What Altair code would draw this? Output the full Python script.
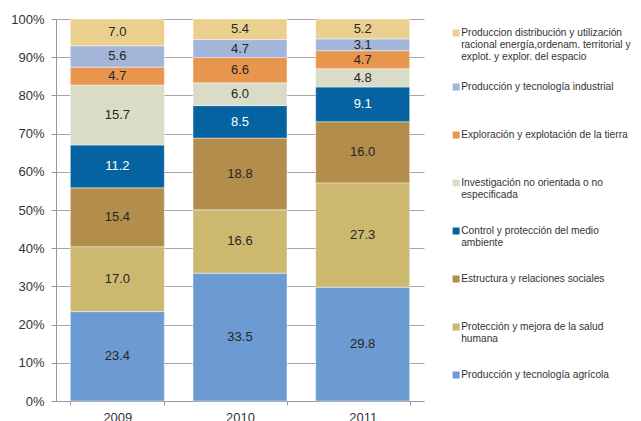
import altair as alt
import pandas as pd

years = ["2009", "2010", "2011"]
# legend labels, bottom-to-top stacking order, "|" marks a line break
legend_labels = [
    "Producción y tecnología agrícola",
    "Protección y mejora de la salud|humana",
    "Estructura y relaciones sociales",
    "Control y protección del medio|ambiente",
    "Investigación no orientada o no|especificada",
    "Exploración y explotación de la tierra",
    "Producción y tecnología industrial",
    "Produccion distribución y utilización|racional energía,ordenam. territorial y|explot. y explor. del espacio",
]
colors = ["#6B9BD2", "#CDB870", "#B38D4B", "#0563A1",
          "#DADCC8", "#E8954D", "#A3B6DA", "#EBCF8F"]
text_colors = ["#262626", "#262626", "#262626", "#FFFFFF",
               "#262626", "#262626", "#262626", "#262626"]

v2009 = [23.4, 17.0, 15.4, 11.2, 15.7, 4.7, 5.6, 7.0]
v2010 = [33.5, 16.6, 18.8, 8.5, 6.0, 6.6, 4.7, 5.4]
v2011 = [29.8, 27.3, 16.0, 9.1, 4.8, 4.7, 3.1, 5.2]
y_ticks = [0, 0.1, 0.2, 0.3, 0.4, 0.5, 0.6, 0.7, 0.8, 0.9, 1.0]

rows = []
for y, vals in zip(years, [v2009, v2010, v2011]):
    for i, (c, v) in enumerate(zip(legend_labels, vals)):
        rows.append({"year": y, "cat": c, "value": v, "idx": i, "tcol": text_colors[i]})
df = pd.DataFrame(rows)

font = "Liberation Sans"

x_scale = alt.Scale(paddingInner=0.234, paddingOuter=0.117)
x_axis = alt.Axis(labelAngle=0, tickBand="extent", tickSize=4,
                  labelPadding=6, labelFontSize=13, labelColor="#333333",
                  labelFont=font, domainColor="#999999", tickColor="#999999",
                  grid=False)
y_scale = alt.Scale(domain=[0, 1])
y_axis = alt.Axis(values=y_ticks, format=".0%", labelOverlap=False,
                  tickSize=5, labelPadding=7, labelFontSize=13,
                  labelColor="#333333", labelFont=font,
                  gridColor="#A6A6A6", domainColor="#999999",
                  tickColor="#999999")

bars = alt.Chart(df).mark_bar(stroke="white", strokeWidth=0.6, strokeOpacity=0.7).encode(
    x=alt.X("year:N", title=None, scale=x_scale, axis=x_axis),
    y=alt.Y("value:Q", stack="normalize", title=None, scale=y_scale, axis=y_axis),
    color=alt.Color("cat:N",
                    scale=alt.Scale(domain=legend_labels[::-1], range=colors[::-1]),
                    legend=alt.Legend(title=None, orient="none", legendX=395, legendY=-10,
                                      clipHeight=48, rowPadding=0, padding=0,
                                      symbolType="square", symbolSize=49,
                                      symbolStrokeWidth=0, labelOffset=0,
                                      labelFontSize=10.2, labelColor="#333333",
                                      labelFont=font, labelLimit=400,
                                      labelExpr="split(datum.label, '|')")),
    order=alt.Order("idx:Q", sort="ascending"),
)

texts = alt.Chart(df).transform_window(
    cum="sum(value)", groupby=["year"], sort=[alt.SortField("idx")],
    frame=[None, 0]
).transform_joinaggregate(
    total="sum(value)", groupby=["year"]
).transform_calculate(
    mid="(datum.cum - datum.value / 2) / datum.total"
).mark_text(fontSize=13, font=font).encode(
    x=alt.X("year:N", title=None, scale=x_scale, axis=x_axis),
    y=alt.Y("mid:Q", title=None, scale=y_scale, axis=y_axis),
    text=alt.Text("value:Q", format=".1f"),
    color=alt.Color("tcol:N", scale=None),
)

chart = alt.layer(bars, texts).properties(
    width=368, height=382,
    autosize=alt.AutoSizeParams(type="none"),
    padding={"left": 48, "top": 11, "right": 209, "bottom": 20},
).configure_view(stroke=None)

chart.save("out.html", embed_options={"renderer": "svg", "actions": False})
